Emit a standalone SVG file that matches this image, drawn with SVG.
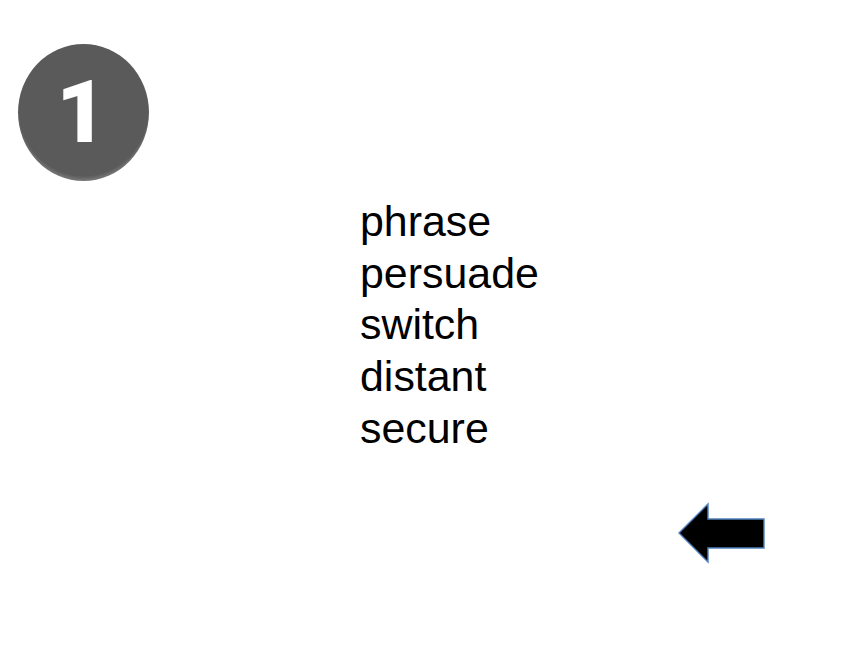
<svg xmlns="http://www.w3.org/2000/svg" width="860" height="645" viewBox="0 0 860 645">
<style>
.w{font-family:"Liberation Sans",Arial,sans-serif;font-size:42.9px;fill:#000}
</style>
<defs>
<radialGradient id="g" cx="0.5" cy="0.47" r="0.53">
<stop offset="0.93" stop-color="#5a5a5a"/>
<stop offset="1" stop-color="#7a7a7a"/>
</radialGradient>
</defs>
<rect width="860" height="645" fill="#fff"/>
<g id="badge">
<ellipse cx="83.5" cy="112.5" rx="65.5" ry="68.5" fill="url(#g)"/>
<text x="81.5" y="142" text-anchor="middle" font-family="Roboto,'Liberation Sans',sans-serif" font-weight="900" font-size="87" fill="#fff">1</text>
</g>
<g id="words">
<text class="w" x="360" y="236">phrase</text>
<text class="w" x="360" y="288">persuade</text>
<text class="w" x="360" y="339">switch</text>
<text class="w" x="360" y="391">distant</text>
<text class="w" x="360" y="442.5">secure</text>
</g>
<g id="arrow">
<polygon points="679,533 708,504 708,519 764,519 764,548 708,548 708,562" fill="#000" stroke="#4f81bd" stroke-width="1.4"/>
</g>
</svg>
